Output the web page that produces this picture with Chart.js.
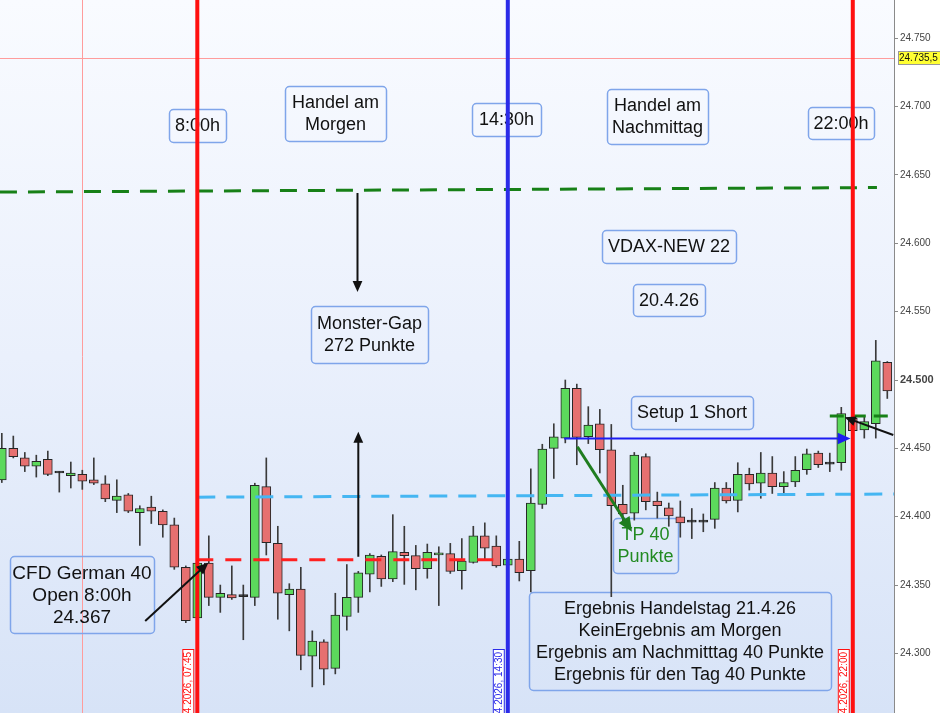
<!DOCTYPE html>
<html lang="de">
<head>
<meta charset="utf-8">
<title>CFD German 40 – 15 Min</title>
<script src="https://cdn.jsdelivr.net/npm/chart.js@4.4.1/dist/chart.umd.min.js"></script>
<style>
  html, body { margin: 0; padding: 0; background: #fff; }
  #wrap { width: 940px; height: 713px; }
</style>
</head>
<body>
<div id="wrap"><canvas id="chart" width="940" height="713"></canvas></div>
<script>
// 15-Minuten-Kerzen, 03:30 bis 22:45
const times = ['03:30','03:45','04:00','04:15','04:30','04:45','05:00','05:15','05:30','05:45',
  '06:00','06:15','06:30','06:45','07:00','07:15','07:30','07:45','08:00','08:15',
  '08:30','08:45','09:00','09:15','09:30','09:45','10:00','10:15','10:30','10:45',
  '11:00','11:15','11:30','11:45','12:00','12:15','12:30','12:45','13:00','13:15',
  '13:30','13:45','14:00','14:15','14:30','14:45','15:00','15:15','15:30','15:45',
  '16:00','16:15','16:30','16:45','17:00','17:15','17:30','17:45','18:00','18:15',
  '18:30','18:45','19:00','19:15','19:30','19:45','20:00','20:15','20:30','20:45',
  '21:00','21:15','21:30','21:45','22:00','22:15','22:30','22:45'];

const opens = [24427,24450,24443,24437,24442,24432,24430,24431,24427,24424,
  24412,24416,24403,24407,24404,24394,24363,24326,24366,24341,
  24343,24341.5,24341,24422,24380.5,24343,24347,24298,24308.5,24289,
  24327,24341,24358,24371,24354.5,24374,24371.5,24362,24372,24373,
  24360.5,24366.5,24386,24378.5,24364.5,24369,24360.5,24409,24450,24457.5,
  24494,24458.5,24468,24449,24409,24402.5,24444,24411.5,24406.5,24400,
  24396,24396,24398,24421,24412,24431,24424.5,24432,24422,24425.5,
  24434.5,24446.5,24438.5,24439.5,24472,24463.5,24468,24513];
const highs = [24461,24459,24447,24445,24448,24433,24440,24434,24443,24430,
  24427,24417,24408,24415,24405,24399,24364,24367,24386,24350,
  24364,24350,24424.5,24443,24393,24351,24363,24316.5,24310,24344,
  24365,24360,24373,24372,24401.5,24393,24379,24380,24378,24380.5,
  24384,24393,24395.5,24386,24370,24382,24435,24453,24468,24500,
  24497,24480.5,24478.5,24467.5,24423,24447,24446,24418,24410,24411.5,
  24406,24402,24425,24425,24439.5,24435.5,24447,24444,24433,24444,
  24449.5,24448,24446.5,24480,24474,24473,24529,24513.5];
const lows = [24425,24443,24433,24429,24430,24418,24421,24420,24423.5,24411,
  24403,24403,24379,24395,24385,24361.5,24322.5,24325,24335,24330,
  24339.5,24310,24335,24372,24325,24316.5,24288,24275.5,24277,24285,
  24317,24330,24345,24349,24352.5,24350.5,24346.5,24355,24335,24358.5,
  24347,24366,24368,24363,24364,24353,24345,24406,24428,24454,
  24438,24453.5,24432,24341.5,24395,24397.5,24405,24399,24393,24385,
  24384,24389,24391.5,24410,24403.5,24419.5,24413.5,24417,24415.5,24422,
  24431,24436,24433,24434,24461,24457.5,24457.5,24486.5];
const closes = [24450,24444,24437,24440.5,24431,24432,24432,24426,24424.5,24413,
  24415,24404,24406,24404,24394,24363,24324,24366,24341,24344,
  24340.5,24341.5,24423,24381,24344,24347,24298.5,24309,24288.5,24328,
  24341,24359,24372,24354.5,24374.5,24371.5,24362,24374,24373.5,24360,
  24367.5,24386,24377,24364,24369,24359,24410,24449.5,24458.5,24494,
  24458,24467,24449,24408,24402,24445,24411,24408,24400.5,24395.5,
  24396,24396,24421,24411.5,24431,24424,24432,24422,24425,24434,
  24446,24438,24438.5,24475.5,24463,24469.5,24514,24492];

// Achsenbeschriftung und markierte Kurse
const yTicks = [24300, 24350, 24400, 24450, 24500, 24550, 24600, 24650, 24700, 24750];
const boldTick = 24500;
const lastPrice = 24735.5;
const openLevel = 24368.5;

// Zeitmarken (Kerzenzeit) und Farbe der senkrechten Linien
const sessionTimes = ['07:45', '14:30', '22:00'];
const sessionColors = ['#ff1010', '#2b2be8', '#ff1010'];
const crossTime = '05:15';

const slot = (t) => times.indexOf(t);

// Linien / Pfeile in Daten-Koordinaten [Zeit-Index, Kurs]
const greenTrend = [[-0.16, 24637.5], [76.1, 24640.8]];
const skyLevel = [[17, 24414.3], [77.6, 24416.6]];
const redLevel = [[17, openLevel], [43.1, openLevel]];
const setupLine = [[48.9, 24457.2], [73.8, 24457.2]];
const shortEntry = [[72.0, 24473.7], [77.6, 24473.7]];
const tpArrow = [[50.05, 24451.2], [54.8, 24389]];
const cfdArrow = [[12.47, 24323.7], [17.96, 24366.4]];
const rightArrow = [[77.52, 24459.8], [73.3, 24472.7]];
const gapDown = [[30.93, 24636.8], [30.93, 24564.4]];
const gapUp = [[31.0, 24370.7], [31.0, 24462.2]];

const notes = [
    { lines: ['8:00h'], x: 169, y: 109, w: 57, h: 33 },
    { lines: ['Handel am', 'Morgen'], x: 285, y: 86, w: 101, h: 55 },
    { lines: ['14:30h'], x: 472, y: 103, w: 69, h: 33 },
    { lines: ['Handel am', 'Nachmittag'], x: 607, y: 89, w: 101, h: 55 },
    { lines: ['22:00h'], x: 808, y: 107, w: 66, h: 32 },
    { lines: ['VDAX-NEW 22'], x: 602, y: 230, w: 134, h: 33 },
    { lines: ['20.4.26'], x: 633, y: 284, w: 72, h: 32 },
    { lines: ['Monster-Gap', '272 Punkte'], x: 311, y: 306, w: 117, h: 57 },
    { lines: ['Setup 1 Short'], x: 631, y: 396, w: 122, h: 33 },
    { lines: ['TP 40', 'Punkte'], x: 613, y: 518, w: 65, h: 55, color: '#218a21' },
    { lines: ['Ergebnis Handelstag 21.4.26', 'KeinErgebnis am Morgen', 'Ergebnis am Nachmitttag 40 Punkte', 'Ergebnis für den Tag 40 Punkte'], x: 529, y: 592, w: 302, h: 98 },
    { lines: ['CFD German 40', 'Open 8:00h', '24.367'], x: 10, y: 556, w: 144, h: 77, size: 19 },
];

const FONT = '"Liberation Sans", Arial, sans-serif';
const fmt = (v) => { const s = String(Math.round(v)); return s.slice(0, -3) + '.' + s.slice(-3); };

const bodyData = times.map((t, i) => ({ x: i, y: [opens[i], closes[i]] }));
const wickData = times.map((t, i) => ({ x: i, y: [lows[i], highs[i]] }));
const bodyColors = times.map((t, i) => closes[i] > opens[i] ? '#5cd95c' : (closes[i] < opens[i] ? '#e67070' : '#222'));

function arrow(c, x1, y1, x2, y2, color, width, head) {
    const a = Math.atan2(y2 - y1, x2 - x1);
    c.save();
    c.strokeStyle = color; c.fillStyle = color; c.lineWidth = width; c.setLineDash([]);
    c.beginPath(); c.moveTo(x1, y1); c.lineTo(x2 - Math.cos(a) * head * 0.8, y2 - Math.sin(a) * head * 0.8); c.stroke();
    c.beginPath();
    c.moveTo(x2, y2);
    c.lineTo(x2 - head * Math.cos(a - 0.42), y2 - head * Math.sin(a - 0.42));
    c.lineTo(x2 - head * Math.cos(a + 0.42), y2 - head * Math.sin(a + 0.42));
    c.closePath(); c.fill();
    c.restore();
}

const drawings = {
    id: 'drawings',
    beforeDraw(chart) {
        const { ctx: c, chartArea: a } = chart;
        c.save();
        c.fillStyle = '#ffffff';
        c.fillRect(0, 0, chart.width, chart.height);
        const g = c.createLinearGradient(0, a.top, 0, a.bottom);
        g.addColorStop(0, '#f9fbff');
        g.addColorStop(0.5, '#eaf0fc');
        g.addColorStop(1, '#d7e3f7');
        c.fillStyle = g;
        c.fillRect(a.left, a.top, a.right - a.left, a.bottom - a.top);
        c.restore();
    },
    beforeDatasetsDraw(chart) {
        const { ctx: c, chartArea: a, scales: { x, y } } = chart;
        c.save();
        c.beginPath(); c.rect(a.left, a.top, a.right - a.left, a.bottom - a.top); c.clip();
        // Fadenkreuz
        c.strokeStyle = '#ff9c9c'; c.lineWidth = 1;
        const cx = Math.round(x.getPixelForValue(slot(crossTime))) + 0.5;
        const cy = Math.round(y.getPixelForValue(lastPrice)) + 0.5;
        c.beginPath(); c.moveTo(cx, a.top); c.lineTo(cx, a.bottom); c.moveTo(a.left, cy); c.lineTo(a.right, cy); c.stroke();
        // Notizen
        notes.forEach(n => {
            c.beginPath(); c.roundRect(n.x + 0.5, n.y + 0.5, n.w, n.h, 4);
            c.strokeStyle = '#7fa5ea'; c.lineWidth = 1.5; c.stroke();
            c.fillStyle = n.color || '#111';
            c.font = (n.size || 18) + 'px ' + FONT;
            c.textAlign = 'center'; c.textBaseline = 'middle';
            const lh = 22, top = n.y + n.h / 2 - (n.lines.length - 1) * lh / 2 + 1;
            n.lines.forEach((l, i) => c.fillText(l, n.x + n.w / 2, top + i * lh));
        });
        c.restore();
    },
    afterDatasetsDraw(chart) {
        const { ctx: c, chartArea: a, scales: { x, y } } = chart;
        const P = (p) => [x.getPixelForValue(p[0]), y.getPixelForValue(p[1])];
        const seg = (pts, color, width, dash) => {
            const [p, q] = pts.map(P);
            c.beginPath(); c.strokeStyle = color; c.lineWidth = width; c.setLineDash(dash);
            c.moveTo(p[0], p[1]); c.lineTo(q[0], q[1]); c.stroke();
        };
        c.save();
        c.beginPath(); c.rect(a.left, a.top, a.right - a.left, a.bottom - a.top); c.clip();
        seg(greenTrend, '#178017', 3, [17, 11]);
        seg(skyLevel, '#45b6f2', 3, [18, 11]);
        seg(redLevel, '#ff2020', 3, [16, 12]);
        seg(shortEntry, '#178017', 3, [14, 8]);
        c.setLineDash([]);
        // Session-Linien
        sessionTimes.forEach((t, i) => {
            const px = x.getPixelForValue(slot(t));
            c.beginPath(); c.strokeStyle = sessionColors[i]; c.lineWidth = 4;
            c.moveTo(px, a.top); c.lineTo(px, a.bottom); c.stroke();
            // Datumsmarke
            c.fillStyle = '#fff'; c.fillRect(px - 15, 649, 11, 70);
            c.strokeStyle = sessionColors[i]; c.lineWidth = 1; c.strokeRect(px - 14.5, 649.5, 11, 70);
            c.save();
            c.translate(px - 9, 652); c.rotate(-Math.PI / 2);
            c.fillStyle = sessionColors[i]; c.font = '10px ' + FONT;
            c.textAlign = 'right'; c.textBaseline = 'middle';
            c.fillText('20.04.2026, ' + t, 0, 0);
            c.restore();
        });
        const A = (pts, color, w, h) => { const [p, q] = pts.map(P); arrow(c, p[0], p[1], q[0], q[1], color, w, h); };
        A(setupLine, '#1c1cf2', 2, 14);
        A(tpArrow, '#1f7d1f', 3, 16);
        A(cfdArrow, '#111', 2, 13);
        A(rightArrow, '#111', 2, 12);
        A(gapDown, '#111', 2, 12);
        A(gapUp, '#111', 2, 12);
        c.restore();
        // Kursmarke an der Achse
        const py = Math.round(y.getPixelForValue(lastPrice));
        c.save();
        c.fillStyle = '#ffff33'; c.fillRect(a.right + 4, py - 7, 44, 14);
        c.strokeStyle = '#999'; c.lineWidth = 1; c.strokeRect(a.right + 4.5, py - 6.5, 44, 13);
        c.fillStyle = '#111'; c.font = '10px ' + FONT; c.textAlign = 'left'; c.textBaseline = 'middle';
        c.fillText('24.735,5', a.right + 5, py + 0.5);
        c.restore();
    },
};

const ctx = document.getElementById('chart');
new Chart(ctx, {
    type: 'bar',
    data: {
        datasets: [
            { label: 'Docht', data: wickData, backgroundColor: '#3a3a3a', barThickness: 1, grouped: false, order: 2 },
            { label: 'Kerze', data: bodyData, backgroundColor: bodyColors, borderColor: '#262626', borderWidth: 1,
              borderSkipped: false, barThickness: 9, minBarLength: 2, grouped: false, order: 1 },
        ],
    },
    options: {
        responsive: false, animation: false, devicePixelRatio: 1,
        layout: { padding: 0 },
        plugins: { legend: { display: false }, tooltip: { enabled: false } },
        scales: {
            x: { type: 'linear', min: -0.157, max: 77.583, display: false, offset: false },
            y: {
                position: 'right', min: 24256.4, max: 24778,
                afterBuildTicks: (s) => { s.ticks = yTicks.map(v => ({ value: v })); },
                afterFit: (s) => { s.width = 46; s.paddingTop = 0; s.paddingBottom = 0; },
                border: { color: '#8a8a8a' },
                grid: { drawOnChartArea: false, tickLength: 4, color: '#8a8a8a' },
                ticks: {
                    padding: 2, color: '#444',
                    font: (c) => c.tick && c.tick.value === boldTick ? { family: FONT, size: 11, weight: 'bold' } : { family: FONT, size: 10 },
                    callback: (v) => fmt(v),
                },
            },
        },
    },
    plugins: [drawings],
});
</script>
</body>
</html>
